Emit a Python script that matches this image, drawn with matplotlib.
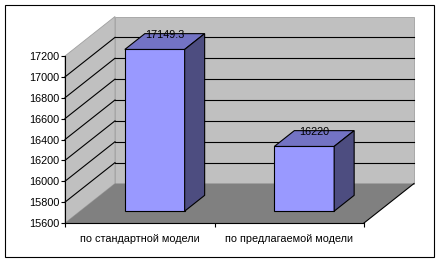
import numpy as np
import matplotlib
matplotlib.use("Agg")
import matplotlib.pyplot as plt
from matplotlib.patches import Polygon, Rectangle

plt.rcParams['font.family'] = ['Liberation Sans', 'DejaVu Sans']

categories = ["по стандартной модели", "по предлагаемой модели"]
values = [17149.3, 16220]
value_labels = ["17149.3", "16220"]
y_min, y_max = 15600, 17200
y_ticks = list(range(15600, 17201, 200))

W, H, DPI = 442, 263, 100
DEPTH = np.array([50.0, 39.5])   # depth vector in pixels
FS = 7.8

fig = plt.figure(figsize=(W / DPI, H / DPI), dpi=DPI)
fig.patch.set_facecolor("white")
fig.add_artist(Rectangle((5 / W, 6 / H), 429 / W, 252 / H, transform=fig.transFigure,
                         fill=False, edgecolor="black", lw=0.8))

ax = fig.add_axes([65 / W, (H - 223) / H, 299 / W, 167 / H])
ax.set_xlim(0, len(categories))
ax.set_ylim(y_min, y_max)
ax.patch.set_visible(False)
for s in ["top", "right"]:
    ax.spines[s].set_visible(False)
ax.spines["left"].set_linewidth(0.8)
ax.spines["bottom"].set_linewidth(0.8)


def proj(x, y, d):
    p = ax.transData.transform((x, y))
    return p + d * DEPTH


def face(pts, fc, ec="none", lw=0.8, z=1):
    xy = [proj(*p) for p in pts]
    ax.add_patch(Polygon(xy, closed=True, transform=None, facecolor=fc,
                         edgecolor=ec, lw=lw, zorder=z, clip_on=False))


def seg(p0, p1, color="black", lw=0.8, z=2):
    a, b = proj(*p0), proj(*p1)
    ax.add_line(plt.Line2D([a[0], b[0]], [a[1], b[1]], transform=None,
                           color=color, lw=lw, zorder=z, clip_on=False))


n = len(categories)
# walls and floor
face([(0, y_min, 0), (0, y_max, 0), (0, y_max, 1), (0, y_min, 1)], "#c0c0c0", "#a0a0a0", 0.6)
face([(0, y_min, 1), (n, y_min, 1), (n, y_max, 1), (0, y_max, 1)], "#c0c0c0", "#a0a0a0", 0.6)
face([(0, y_min, 0), (n, y_min, 0), (n, y_min, 1), (0, y_min, 1)], "#808080")
seg((n, y_min, 0), (n, y_min, 1))

# gridlines
for v in y_ticks[1:-1]:
    seg((0, v, 0), (0, v, 1))
    seg((0, v, 1), (n, v, 1))

# bars
d0, d1, half = 0.3, 0.7, 0.2
for i, v in enumerate(values):
    x0, x1 = i + 0.5 - half, i + 0.5 + half
    face([(x0, y_min, d0), (x1, y_min, d0), (x1, v, d0), (x0, v, d0)], "#9999ff", "black", 0.8, 3)
    face([(x0, v, d0), (x1, v, d0), (x1, v, d1), (x0, v, d1)], "#7373c4", "black", 0.8, 3)
    face([(x1, y_min, d0), (x1, y_min, d1), (x1, v, d1), (x1, v, d0)], "#4d4d80", "black", 0.8, 3)
    ax.annotate(value_labels[i], xy=(i + 0.5, v), xytext=(0.5 * DEPTH[0] * 0.72, (0.5 * DEPTH[1] + 4) * 0.72),
                textcoords="offset points", ha="center", va="baseline", fontsize=FS, zorder=5,
                annotation_clip=False)

ax.set_yticks(y_ticks)
ax.set_yticklabels([str(t) for t in y_ticks], fontsize=FS)
ax.tick_params(axis="y", length=3, width=0.8, pad=1, direction="out")
ax.set_xticks(range(n + 1))
ax.set_xticklabels([])
ax.tick_params(axis="x", which="major", length=3, width=0.8, direction="out")
ax.set_xticks([i + 0.5 for i in range(n)], minor=True)
ax.set_xticklabels(categories, minor=True, fontsize=FS)
ax.tick_params(axis="x", which="minor", length=0, pad=8)

fig.savefig("out.png", dpi=DPI)
